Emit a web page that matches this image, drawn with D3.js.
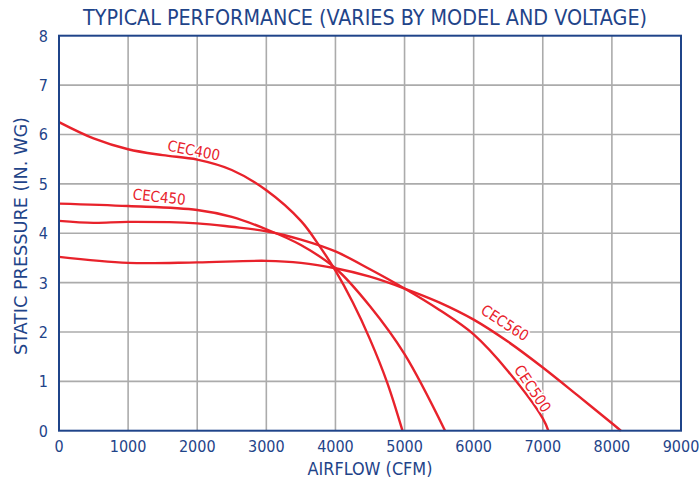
<!DOCTYPE html>
<html><head><meta charset="utf-8">
<script src="https://cdn.jsdelivr.net/npm/d3@7"></script>
<style>
html,body{margin:0;padding:0;background:#fff;}
svg{display:block;}
</style></head>
<body>
<svg id="chart" width="699" height="482"></svg>
<script>
// ---- data ----
const xTicks = [0,1000,2000,3000,4000,5000,6000,7000,8000,9000];
const yTicks = [0,1,2,3,4,5,6,7,8];
const cec400X = [0,500,1000,1500,2000,2500,3000,3500,3750,4000,4250,4500,4750,4970];
const cec400Y = [6.25,5.92,5.70,5.58,5.49,5.28,4.87,4.25,3.78,3.24,2.60,1.85,0.97,0];
const cec450X = [0,1000,2000,2500,3000,3500,4000,4500,5000,5586];
const cec450Y = [4.60,4.55,4.47,4.33,4.08,3.76,3.29,2.52,1.55,0];
const cec500X = [0,500,1000,2000,2500,3000,3500,4000,4500,5000,5500,6000,6500,7000,7080];
const cec500Y = [4.25,4.21,4.23,4.20,4.13,4.04,3.87,3.63,3.27,2.88,2.45,1.95,1.20,0.25,0];
const cec560X = [0,1000,2000,3000,3500,4000,4500,5000,5500,6000,6500,7000,7500,8000,8130];
const cec560Y = [3.52,3.40,3.41,3.44,3.40,3.29,3.12,2.88,2.60,2.25,1.80,1.28,0.72,0.15,0];
const seriesNames = ["CEC400","CEC450","CEC500","CEC560"];
const title = "TYPICAL PERFORMANCE (VARIES BY MODEL AND VOLTAGE)";
const xTitle = "AIRFLOW (CFM)";
const yTitle = "STATIC PRESSURE (IN. WG)";

const series = [
  {name: seriesNames[0], xs: cec400X, ys: cec400Y, label:{x:1950, y:5.67, rot:11}},
  {name: seriesNames[1], xs: cec450X, ys: cec450Y, label:{x:1450, y:4.73, rot:6}},
  {name: seriesNames[2], xs: cec500X, ys: cec500Y, label:{x:6850, y:0.85, rot:56}},
  {name: seriesNames[3], xs: cec560X, ys: cec560Y, label:{x:6450, y:2.18, rot:33}}
];

const FONT = "'Liberation Sans Narrow','DejaVu Sans Condensed','Roboto',sans-serif";
const NAVY = "#1f4489";
const RED = "#e8222b";

const svg = d3.select("#chart");
const x = d3.scaleLinear().domain([0,9000]).range([59,681]);
const y = d3.scaleLinear().domain([0,8]).range([430.7,35.7]);

// grid
svg.append("g").selectAll("line").data(xTicks.slice(1,-1)).join("line")
  .attr("x1",d=>x(d)).attr("x2",d=>x(d)).attr("y1",y(0)).attr("y2",y(8))
  .attr("stroke","#ababab").attr("stroke-width",1.6);
svg.append("g").selectAll("line").data(yTicks.slice(1,-1)).join("line")
  .attr("x1",x(0)).attr("x2",x(9000)).attr("y1",d=>y(d)).attr("y2",d=>y(d))
  .attr("stroke","#ababab").attr("stroke-width",1.6);

// curves
const line = d3.line().x(d=>x(d[0])).y(d=>y(d[1])).curve(d3.curveCatmullRom.alpha(0.5));
const clipG = svg.append("g");
series.forEach(s=>{
  const pts = s.xs.map((v,i)=>[v,s.ys[i]]);
  clipG.append("path").datum(pts).attr("d",line)
    .attr("fill","none").attr("stroke",RED).attr("stroke-width",2.4);
});

// frame
svg.append("rect").attr("x",x(0)).attr("y",y(8)).attr("width",x(9000)-x(0)).attr("height",y(0)-y(8))
  .attr("fill","none").attr("stroke",NAVY).attr("stroke-width",2);

// series labels
series.forEach(s=>{
  svg.append("text")
    .attr("transform",`translate(${x(s.label.x)},${y(s.label.y)}) rotate(${s.label.rot})`)
    .attr("text-anchor","middle").attr("dominant-baseline","central")
    .attr("font-family",FONT).attr("font-size",15)
    .attr("fill",RED).attr("stroke","#fff").attr("stroke-width",3)
    .attr("paint-order","stroke")
    .text(s.name);
});

// tick labels
svg.append("g").selectAll("text").data(xTicks).join("text")
  .attr("x",d=>x(d)).attr("y",452).attr("text-anchor","middle")
  .attr("font-family",FONT).attr("font-size",16).attr("fill",NAVY)
  .text(d=>d);
svg.append("g").selectAll("text").data(yTicks).join("text")
  .attr("x",48).attr("y",d=>y(d)+6).attr("text-anchor","end")
  .attr("font-family",FONT).attr("font-size",16).attr("fill",NAVY)
  .text(d=>d);

// titles
svg.append("text").attr("x",365).attr("y",25).attr("text-anchor","middle")
  .attr("font-family",FONT).attr("font-size",21).attr("fill",NAVY)
  .attr("textLength",564).attr("lengthAdjust","spacingAndGlyphs")
  .text(title);
svg.append("text").attr("x",370).attr("y",475).attr("text-anchor","middle")
  .attr("font-family",FONT).attr("font-size",17).attr("fill",NAVY)
  .attr("textLength",125).attr("lengthAdjust","spacingAndGlyphs")
  .text(xTitle);
svg.append("text").attr("transform","translate(27,236) rotate(-90)").attr("text-anchor","middle")
  .attr("font-family",FONT).attr("font-size",17).attr("fill",NAVY)
  .attr("textLength",238).attr("lengthAdjust","spacingAndGlyphs")
  .text(yTitle);
</script>
</body></html>
